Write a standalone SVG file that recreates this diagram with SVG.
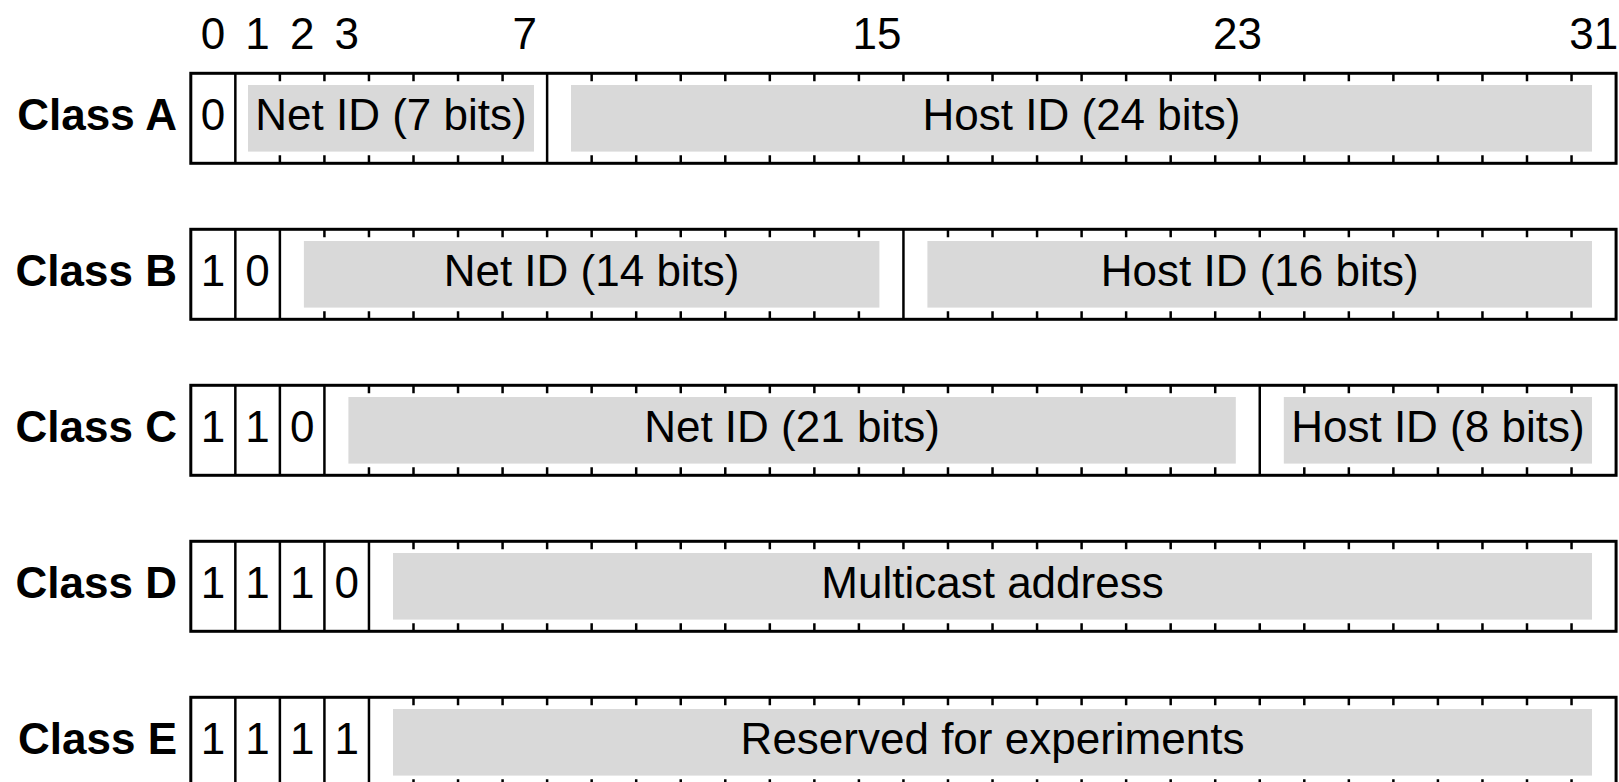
<svg xmlns="http://www.w3.org/2000/svg" xmlns:xlink="http://www.w3.org/1999/xlink" width="1619" height="782" viewBox="0 0 1619 782">
<style>
.box{fill:#fff;stroke:#000;stroke-width:3}
.g{fill:#d9d9d9;stroke:none}
.dv{stroke:#000;stroke-width:2.5}
.tk{stroke:#000;stroke-width:2.5;fill:none}
text{font-family:"Liberation Sans",Arial,sans-serif;font-size:44px;fill:#000}
.c{text-anchor:middle}
.lbl{font-weight:bold;text-anchor:end}
</style>
<defs>
<path id="tk" class="tk" d="M0 0v8M0 90v-8"/>
<path id="dv" class="dv" d="M0 0v90"/>
</defs>
<rect width="1619" height="782" fill="#fff"/>
<g id="bit-numbers" class="c">
<text class="c" x="213.07" y="48.5">0</text>
<text class="c" x="257.61" y="48.5">1</text>
<text class="c" x="302.15" y="48.5">2</text>
<text class="c" x="346.69" y="48.5">3</text>
<text class="c" x="524.85" y="48.5">7</text>
<text class="c" x="877" y="48.5">15</text>
<text class="c" x="1237.49" y="48.5">23</text>
<text class="c" x="1593.81" y="48.5">31</text>
</g>
<g id="class-a" transform="translate(0,73.3)">
<text class="lbl" x="177" y="56.7">Class A</text>
<rect class="box" x="190.8" y="0" width="1425.28" height="90"/>
<rect class="g" x="248" y="11.7" width="286" height="66.6"/>
<rect class="g" x="571" y="11.7" width="1021" height="66.6"/>
<use href="#dv" x="235.34"/><use href="#dv" x="547.12"/>
<use href="#tk" x="279.88"/><use href="#tk" x="324.42"/><use href="#tk" x="368.96"/><use href="#tk" x="413.5"/><use href="#tk" x="458.04"/><use href="#tk" x="502.58"/>
<use href="#tk" x="591.66"/><use href="#tk" x="636.2"/><use href="#tk" x="680.74"/><use href="#tk" x="725.28"/><use href="#tk" x="769.82"/><use href="#tk" x="814.36"/><use href="#tk" x="858.9"/><use href="#tk" x="903.44"/><use href="#tk" x="947.98"/><use href="#tk" x="992.52"/><use href="#tk" x="1037.06"/><use href="#tk" x="1081.6"/><use href="#tk" x="1126.14"/><use href="#tk" x="1170.68"/><use href="#tk" x="1215.22"/><use href="#tk" x="1259.76"/><use href="#tk" x="1304.3"/><use href="#tk" x="1348.84"/><use href="#tk" x="1393.38"/><use href="#tk" x="1437.92"/><use href="#tk" x="1482.46"/><use href="#tk" x="1527"/><use href="#tk" x="1571.54"/>
<text class="c" x="213.07" y="56.7">0</text>
<text class="c" x="391" y="56.7">Net ID (7 bits)</text>
<text class="c" x="1081.5" y="56.7">Host ID (24 bits)</text>
</g>
<g id="class-b" transform="translate(0,229.3)">
<text class="lbl" x="177" y="56.7">Class B</text>
<rect class="box" x="190.8" y="0" width="1425.28" height="90"/>
<rect class="g" x="303.9" y="11.7" width="575.5" height="66.6"/>
<rect class="g" x="927.4" y="11.7" width="664.6" height="66.6"/>
<use href="#dv" x="235.34"/><use href="#dv" x="279.88"/><use href="#dv" x="903.44"/>
<use href="#tk" x="324.42"/><use href="#tk" x="368.96"/><use href="#tk" x="413.5"/><use href="#tk" x="458.04"/><use href="#tk" x="502.58"/><use href="#tk" x="547.12"/><use href="#tk" x="591.66"/><use href="#tk" x="636.2"/><use href="#tk" x="680.74"/><use href="#tk" x="725.28"/><use href="#tk" x="769.82"/><use href="#tk" x="814.36"/><use href="#tk" x="858.9"/>
<use href="#tk" x="947.98"/><use href="#tk" x="992.52"/><use href="#tk" x="1037.06"/><use href="#tk" x="1081.6"/><use href="#tk" x="1126.14"/><use href="#tk" x="1170.68"/><use href="#tk" x="1215.22"/><use href="#tk" x="1259.76"/><use href="#tk" x="1304.3"/><use href="#tk" x="1348.84"/><use href="#tk" x="1393.38"/><use href="#tk" x="1437.92"/><use href="#tk" x="1482.46"/><use href="#tk" x="1527"/><use href="#tk" x="1571.54"/>
<text class="c" x="213.07" y="56.7">1</text>
<text class="c" x="257.61" y="56.7">0</text>
<text class="c" x="591.6" y="56.7">Net ID (14 bits)</text>
<text class="c" x="1259.7" y="56.7">Host ID (16 bits)</text>
</g>
<g id="class-c" transform="translate(0,385.3)">
<text class="lbl" x="177" y="56.7">Class C</text>
<rect class="box" x="190.8" y="0" width="1425.28" height="90"/>
<rect class="g" x="348.4" y="11.7" width="887.4" height="66.6"/>
<rect class="g" x="1283.8" y="11.7" width="308.2" height="66.6"/>
<use href="#dv" x="235.34"/><use href="#dv" x="279.88"/><use href="#dv" x="324.42"/><use href="#dv" x="1259.76"/>
<use href="#tk" x="368.96"/><use href="#tk" x="413.5"/><use href="#tk" x="458.04"/><use href="#tk" x="502.58"/><use href="#tk" x="547.12"/><use href="#tk" x="591.66"/><use href="#tk" x="636.2"/><use href="#tk" x="680.74"/><use href="#tk" x="725.28"/><use href="#tk" x="769.82"/><use href="#tk" x="814.36"/><use href="#tk" x="858.9"/><use href="#tk" x="903.44"/><use href="#tk" x="947.98"/><use href="#tk" x="992.52"/><use href="#tk" x="1037.06"/><use href="#tk" x="1081.6"/><use href="#tk" x="1126.14"/><use href="#tk" x="1170.68"/><use href="#tk" x="1215.22"/>
<use href="#tk" x="1304.3"/><use href="#tk" x="1348.84"/><use href="#tk" x="1393.38"/><use href="#tk" x="1437.92"/><use href="#tk" x="1482.46"/><use href="#tk" x="1527"/><use href="#tk" x="1571.54"/>
<text class="c" x="213.07" y="56.7">1</text>
<text class="c" x="257.61" y="56.7">1</text>
<text class="c" x="302.15" y="56.7">0</text>
<text class="c" x="792.1" y="56.7">Net ID (21 bits)</text>
<text class="c" x="1437.9" y="56.7">Host ID (8 bits)</text>
</g>
<g id="class-d" transform="translate(0,541.3)">
<text class="lbl" x="177" y="56.7">Class D</text>
<rect class="box" x="190.8" y="0" width="1425.28" height="90"/>
<rect class="g" x="393" y="11.7" width="1199" height="66.6"/>
<use href="#dv" x="235.34"/><use href="#dv" x="279.88"/><use href="#dv" x="324.42"/><use href="#dv" x="368.96"/>
<use href="#tk" x="413.5"/><use href="#tk" x="458.04"/><use href="#tk" x="502.58"/><use href="#tk" x="547.12"/><use href="#tk" x="591.66"/><use href="#tk" x="636.2"/><use href="#tk" x="680.74"/><use href="#tk" x="725.28"/><use href="#tk" x="769.82"/><use href="#tk" x="814.36"/><use href="#tk" x="858.9"/><use href="#tk" x="903.44"/><use href="#tk" x="947.98"/><use href="#tk" x="992.52"/><use href="#tk" x="1037.06"/><use href="#tk" x="1081.6"/><use href="#tk" x="1126.14"/><use href="#tk" x="1170.68"/><use href="#tk" x="1215.22"/><use href="#tk" x="1259.76"/><use href="#tk" x="1304.3"/><use href="#tk" x="1348.84"/><use href="#tk" x="1393.38"/><use href="#tk" x="1437.92"/><use href="#tk" x="1482.46"/><use href="#tk" x="1527"/><use href="#tk" x="1571.54"/>
<text class="c" x="213.07" y="56.7">1</text>
<text class="c" x="257.61" y="56.7">1</text>
<text class="c" x="302.15" y="56.7">1</text>
<text class="c" x="346.69" y="56.7">0</text>
<text class="c" x="992.5" y="56.7">Multicast address</text>
</g>
<g id="class-e" transform="translate(0,697.3)">
<text class="lbl" x="177" y="56.7">Class E</text>
<rect class="box" x="190.8" y="0" width="1425.28" height="90"/>
<rect class="g" x="393" y="11.7" width="1199" height="66.6"/>
<use href="#dv" x="235.34"/><use href="#dv" x="279.88"/><use href="#dv" x="324.42"/><use href="#dv" x="368.96"/>
<use href="#tk" x="413.5"/><use href="#tk" x="458.04"/><use href="#tk" x="502.58"/><use href="#tk" x="547.12"/><use href="#tk" x="591.66"/><use href="#tk" x="636.2"/><use href="#tk" x="680.74"/><use href="#tk" x="725.28"/><use href="#tk" x="769.82"/><use href="#tk" x="814.36"/><use href="#tk" x="858.9"/><use href="#tk" x="903.44"/><use href="#tk" x="947.98"/><use href="#tk" x="992.52"/><use href="#tk" x="1037.06"/><use href="#tk" x="1081.6"/><use href="#tk" x="1126.14"/><use href="#tk" x="1170.68"/><use href="#tk" x="1215.22"/><use href="#tk" x="1259.76"/><use href="#tk" x="1304.3"/><use href="#tk" x="1348.84"/><use href="#tk" x="1393.38"/><use href="#tk" x="1437.92"/><use href="#tk" x="1482.46"/><use href="#tk" x="1527"/><use href="#tk" x="1571.54"/>
<text class="c" x="213.07" y="56.7">1</text>
<text class="c" x="257.61" y="56.7">1</text>
<text class="c" x="302.15" y="56.7">1</text>
<text class="c" x="346.69" y="56.7">1</text>
<text class="c" x="992.5" y="56.7">Reserved for experiments</text>
</g>
</svg>
